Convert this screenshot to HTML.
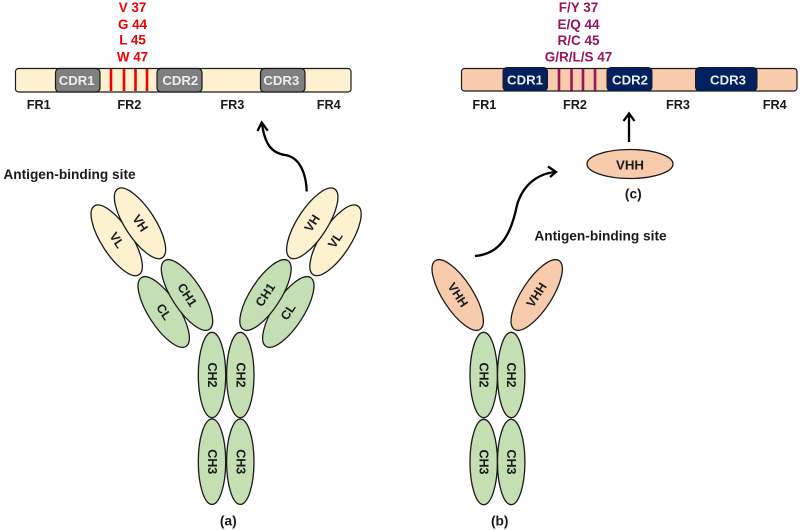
<!DOCTYPE html>
<html><head><meta charset="utf-8"><style>
html,body{margin:0;padding:0;background:#fff}
svg{display:block}
text{font-family:"Liberation Sans",sans-serif;font-weight:700;text-anchor:middle;dominant-baseline:central;font-size:12.7px;fill:#1a1a1a}
.e{stroke:#1a1a1a;stroke-width:1.3}
.g{fill:#c5dfb4}.y{fill:#fdf1cf}.o{fill:#f8cbad}
.t{font-size:12.5px}
.c{font-size:13.2px;fill:#eee}
.r{fill:#f00000;font-size:13.4px}
.m{fill:#9c1458;font-size:13.5px}
.a{font-size:13.7px}
</style></head><body>
<svg width="800" height="530" viewBox="0 0 800 530" xmlns="http://www.w3.org/2000/svg">
<defs>
<g id="v"><ellipse class="e g" rx="13.7" ry="42.7"/></g>
</defs>
<!-- left bar -->
<rect x="15.5" y="68.5" width="335.5" height="23.5" rx="3" fill="#fdf1cf" stroke="#1a1a1a" stroke-width="1.2"/>
<g fill="#7f7f7f" stroke="#1a1a1a" stroke-width="1.2">
<rect x="55.5" y="68.5" width="44.5" height="23.5" rx="4"/>
<rect x="157" y="68.5" width="45" height="23.5" rx="4"/>
<rect x="260.5" y="68.5" width="44.5" height="23.5" rx="4"/>
</g>
<g stroke="#f00000" stroke-width="2.6"><path d="M111 69V91M124 69V91M135.500 69V91M147 69V91"/></g>
<text class="c" x="76.700" y="80.500">CDR1</text>
<text class="c" x="180.300" y="80.500">CDR2</text>
<text class="c" x="281.300" y="80.500">CDR3</text>
<text class="r" x="132.500" y="7.500">V 37</text>
<text class="r" x="132.500" y="24.500">G 44</text>
<text class="r" x="132.500" y="40">L 45</text>
<text class="r" x="132.500" y="57">W 47</text>
<text x="38.700" y="105">FR1</text>
<text x="129.300" y="105">FR2</text>
<text x="232.300" y="105">FR3</text>
<text x="328.700" y="105">FR4</text>
<!-- right bar -->
<rect x="461.500" y="68.500" width="335.500" height="22.500" rx="3" fill="#f8cbad" stroke="#1a1a1a" stroke-width="1.2"/>
<g fill="#002060" stroke="#1a1a1a" stroke-width="1">
<rect x="503" y="67.500" width="44.500" height="23.500" rx="4"/>
<rect x="607" y="67.500" width="45" height="23.500" rx="4"/>
<rect x="695.500" y="67.500" width="61.500" height="23.500" rx="4"/>
</g>
<g stroke="#9c1458" stroke-width="2.6"><path d="M559 69V90.500M571.500 69V90.500M583 69V90.500M595 69V90.500"/></g>
<text class="c" x="525" y="80">CDR1</text>
<text class="c" x="630" y="80">CDR2</text>
<text class="c" x="728" y="80">CDR3</text>
<text class="m" x="578.500" y="7.500">F/Y 37</text>
<text class="m" x="578.500" y="24.500">E/Q 44</text>
<text class="m" x="578.500" y="40.500">R/C 45</text>
<text class="m" x="578.500" y="57">G/R/L/S 47</text>
<text x="484.300" y="105">FR1</text>
<text x="575" y="105">FR2</text>
<text x="678" y="105">FR3</text>
<text x="774.700" y="105">FR4</text>
<!-- arrows -->
<g fill="none" stroke="#000" stroke-width="2.3" stroke-linecap="butt">
<path d="M306.700 191.500C306 172 299 157 285 155C272 153 265 145 262 124"/>
<path d="M257.500 131L261.700 122.500L267.700 130.700"/>
<path d="M475 256C500 254 511 235 517 205C523 185 537 174 555 172"/>
<path d="M548 166.500L556 172L550 177"/>
<path d="M629 142V114"/>
<path d="M623.500 121L629 113.500L634.500 121"/>
</g>
<text class="a" x="69.500" y="174.500">Antigen-binding site</text>
<text class="a" x="600.500" y="236">Antigen-binding site</text>
<!-- antibody a -->
<g>
<g transform="translate(116.700 240.300) rotate(-33)"><ellipse class="e y" rx="15" ry="41"/></g>
<g transform="translate(140 223.300) rotate(-33)"><ellipse class="e y" rx="15" ry="41"/></g>
<g transform="translate(163.700 312) rotate(-33)"><ellipse class="e g" rx="15" ry="41"/></g>
<g transform="translate(187 295) rotate(-33)"><ellipse class="e g" rx="15" ry="41"/></g>
<g transform="translate(335.500 240.300) rotate(33)"><ellipse class="e y" rx="15" ry="41"/></g>
<g transform="translate(312.300 223.300) rotate(33)"><ellipse class="e y" rx="15" ry="41"/></g>
<g transform="translate(288.300 312) rotate(33)"><ellipse class="e g" rx="15" ry="41"/></g>
<g transform="translate(265.500 295) rotate(33)"><ellipse class="e g" rx="15" ry="41"/></g>
<use href="#v" x="212" y="375"/><use href="#v" x="240.300" y="375"/>
<use href="#v" x="212" y="461.700"/><use href="#v" x="240.300" y="461.700"/>
</g>
<text class="t" transform="translate(116.700 240.300) rotate(57)">VL</text>
<text class="t" transform="translate(140 223.300) rotate(57)">VH</text>
<text class="t" transform="translate(163.700 312) rotate(57)">CL</text>
<text class="t" transform="translate(187 295) rotate(57)">CH1</text>
<text class="t" transform="translate(335.500 240.300) rotate(-57)">VL</text>
<text class="t" transform="translate(312.300 223.300) rotate(-57)">VH</text>
<text class="t" transform="translate(288.300 312) rotate(-57)">CL</text>
<text class="t" transform="translate(265.500 295) rotate(-57)">CH1</text>
<text class="t" transform="translate(212 375) rotate(90)">CH2</text>
<text class="t" transform="translate(240.300 375) rotate(90)">CH2</text>
<text class="t" transform="translate(212 461.700) rotate(90)">CH3</text>
<text class="t" transform="translate(240.300 461.700) rotate(90)">CH3</text>
<text class="a" x="228.300" y="521">(a)</text>
<!-- antibody b -->
<g transform="translate(457.700 295) rotate(-33)"><ellipse class="e o" rx="15" ry="41"/></g>
<g transform="translate(536.700 295) rotate(33)"><ellipse class="e o" rx="15" ry="41"/></g>
<use href="#v" x="483.700" y="375"/><use href="#v" x="511.200" y="375"/>
<use href="#v" x="483.700" y="462"/><use href="#v" x="511.200" y="462"/>
<text class="t" transform="translate(457.700 295) rotate(57)">VHH</text>
<text class="t" transform="translate(536.700 295) rotate(-57)">VHH</text>
<text class="t" transform="translate(483.700 375) rotate(90)">CH2</text>
<text class="t" transform="translate(511.200 375) rotate(90)">CH2</text>
<text class="t" transform="translate(483.700 462) rotate(90)">CH3</text>
<text class="t" transform="translate(511.200 462) rotate(90)">CH3</text>
<text class="a" x="499.700" y="521">(b)</text>
<!-- c -->
<ellipse class="e o" cx="630" cy="164" rx="43" ry="14.500"/>
<text x="630" y="165" style="font-size:13.3px">VHH</text>
<text class="a" x="633.300" y="194">(c)</text>
</svg>
</body></html>
